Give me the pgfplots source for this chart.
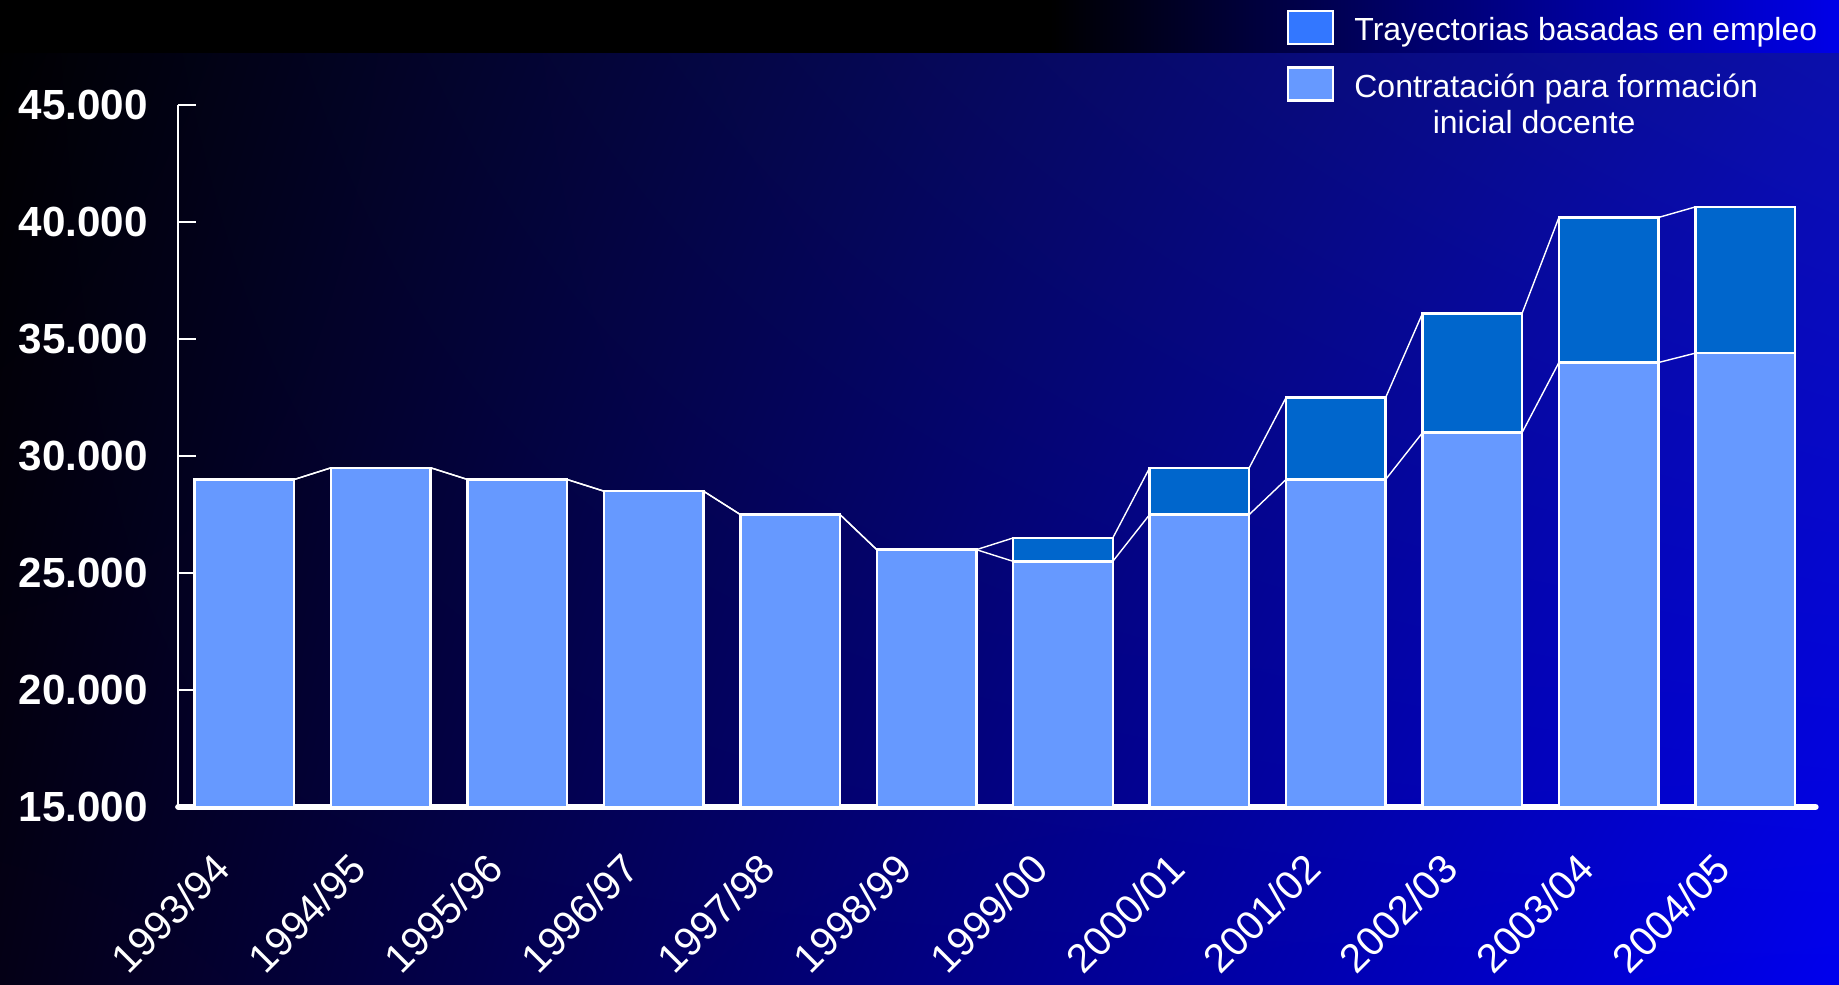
\documentclass[border=0pt]{standalone}
\usepackage{fontspec}
\setmainfont{Liberation Sans}
\usepackage{pgfplots}
\pgfplotsset{compat=1.18}
\usepackage{pgfplotstable}
\usetikzlibrary{shadings}
\definecolor{lightbar}{HTML}{6699FF}
\definecolor{darkbar}{HTML}{0066CC}
\definecolor{legdark}{HTML}{3377FF}
\definecolor{bgUR}{HTML}{0C10A8}
\definecolor{bgLL}{HTML}{040016}
\definecolor{bgLR}{HTML}{0000EE}
\definecolor{bandR}{HTML}{0000E8}

\pgfplotstableread{
x lower total
0 29000 29000
1 29500 29500
2 29000 29000
3 28500 28500
4 27500 27500
5 26000 26000
6 25500 26500
7 27500 29500
8 29000 32500
9 31000 36100
10 34000 40200
11 34400 40650
}\datatable

\pgfplotsset{
  myleg/.style={legend image code/.code={\draw[##1, draw=white, line width=0.6pt] (0mm,-0.35mm) rectangle (4.5mm,2.95mm);}},
  mybar/.style={ybar, bar width=0.73, bar shift=0pt, draw=white, line width=0.7pt, myleg}
}

\begin{document}
\begin{tikzpicture}
\path[use as bounding box] (0,0) rectangle (183.9mm,98.5mm);
\shade[upper left=black, upper right=bgUR, lower left=bgLL, lower right=bgLR] (0,0) rectangle (183.9mm,98.5mm);
\fill[black] (0,93.2mm) rectangle (105mm,98.5mm);
\shade[left color=black, right color=bandR] (105mm,93.2mm) rectangle (183.9mm,98.5mm);
\begin{axis}[
  at={(17.83mm,17.8mm)}, anchor=south west,
  scale only axis, width=163.72mm, height=70.18mm,
  xmin=-0.485, xmax=11.516, ymin=15000, ymax=45000,
  axis x line=bottom, axis y line=left,
  x axis line style={-, white, line width=1.8pt, line cap=round},
  y axis line style={-, white, line width=0.6pt},
  xtick={0,...,11},
  xticklabels={1993/94,1994/95,1995/96,1996/97,1997/98,1998/99,1999/00,2000/01,2001/02,2002/03,2003/04,2004/05},
  x tick style={draw=none},
  xticklabel style={xshift=-2.2mm, yshift=-5.4mm, rotate=45, anchor=east, inner sep=0pt, font=\fontsize{11.5}{14}\selectfont, text=white},
  ytick={15000,20000,...,45000},
  y tick style={white, line width=0.6pt},
  tick align=inside, major tick length=1.8mm,
  yticklabel style={font=\fontsize{12}{14}\selectfont\bfseries, text=white, inner sep=0pt, xshift=-3mm},
  /pgf/number format/1000 sep={.},
  /pgf/number format/assume math mode=true,
  scaled y ticks=false,
  legend style={at={(axis description cs:0.6766,1.137)}, anchor=north west, draw=none, fill=none, text=white,
    font=\fontsize{9.1}{10.4}\selectfont, inner sep=0pt, row sep=1.18mm, column sep=1.35mm,
    cells={anchor=base west, inner sep=0pt}},
]
\addplot[mybar, fill=darkbar, legend image post style={fill=legdark}] table[x=x, y=total]{\datatable};
\addlegendentry{Trayectorias basadas en empleo}
\addplot[mybar, fill=lightbar] table[x=x, y=lower]{\datatable};
\addlegendentry{\begin{tabular}[t]{@{}c@{}}Contratación para formación\\inicial docente\hspace*{4.4mm}\end{tabular}}
\addplot[white, line width=0.4pt, forget plot, mark=none] coordinates {
(-0.365,29000) (0.365,29000) (0.635,29500) (1.365,29500) (1.635,29000) (2.365,29000)
(2.635,28500) (3.365,28500) (3.635,27500) (4.365,27500) (4.635,26000) (5.365,26000)
(5.635,25500) (6.365,25500) (6.635,27500) (7.365,27500) (7.635,29000) (8.365,29000)
(8.635,31000) (9.365,31000) (9.635,34000) (10.365,34000) (10.635,34400) (11.365,34400)};
\addplot[white, line width=0.4pt, forget plot, mark=none] coordinates {
(-0.365,29000) (0.365,29000) (0.635,29500) (1.365,29500) (1.635,29000) (2.365,29000)
(2.635,28500) (3.365,28500) (3.635,27500) (4.365,27500) (4.635,26000) (5.365,26000)
(5.635,26500) (6.365,26500) (6.635,29500) (7.365,29500) (7.635,32500) (8.365,32500)
(8.635,36100) (9.365,36100) (9.635,40200) (10.365,40200) (10.635,40650) (11.365,40650)};
\end{axis}
\end{tikzpicture}
\end{document}
